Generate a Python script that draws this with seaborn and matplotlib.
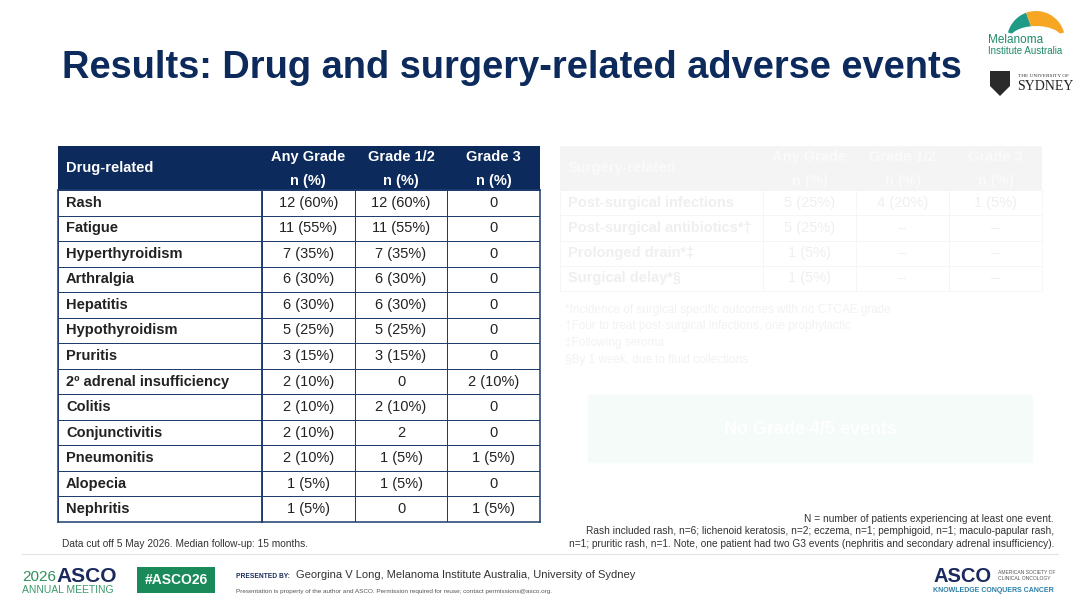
import numpy as np
import matplotlib
matplotlib.use("Agg")
import matplotlib.pyplot as plt
import seaborn as sns
from matplotlib.colors import ListedColormap
from matplotlib.patches import Rectangle, Wedge, Ellipse, Polygon

# Drug-related adverse events
drug_events = ['Rash', 'Fatigue', 'Hyperthyroidism', 'Arthralgia', 'Hepatitis',
               'Hypothyroidism', 'Pruritis', '2º adrenal insufficiency', 'Colitis',
               'Conjunctivitis', 'Pneumonitis', 'Alopecia', 'Nephritis']
drug_any = ['12 (60%)', '11 (55%)', '7 (35%)', '6 (30%)', '6 (30%)', '5 (25%)', '3 (15%)',
            '2 (10%)', '2 (10%)', '2 (10%)', '2 (10%)', '1 (5%)', '1 (5%)']
drug_g12 = ['12 (60%)', '11 (55%)', '7 (35%)', '6 (30%)', '6 (30%)', '5 (25%)', '3 (15%)',
            '0', '2 (10%)', '2', '1 (5%)', '1 (5%)', '0']
drug_g3 = ['0', '0', '0', '0', '0', '0', '0', '2 (10%)', '0', '0', '1 (5%)', '0', '1 (5%)']

# Surgery-related events (faded on the slide)
surg_events = ['Post-surgical infections', 'Post-surgical antibiotics*†',
               'Prolonged drain*‡', 'Surgical delay*§']
surg_any = ['5 (25%)', '5 (25%)', '1 (5%)', '1 (5%)']
surg_g12 = ['4 (20%)', '–', '–', '–']
surg_g3 = ['1 (5%)', '–', '–', '–']
surg_notes = ['*Incidence of surgical specific outcomes with no CTCAE grade',
              '†Four to treat post-surgical infections, one prophylactic',
              '‡Following seroma',
              '§By 1 week, due to fluid collections']

grade_heads = [('Any Grade', 'n (%)'), ('Grade 1/2', 'n (%)'), ('Grade 3', 'n (%)')]

W, H = 1080, 608
NAVY = '#0c2a5c'

plt.rcParams['font.family'] = ['Liberation Sans', 'DejaVu Sans']
fig = plt.figure(figsize=(W / 100, H / 100), dpi=100)
fig.patch.set_facecolor('white')

bg = fig.add_axes([0, 0, 1, 1])
bg.set_xlim(0, W)
bg.set_ylim(H, 0)
bg.axis('off')


def px_rect(x0, y0, x1, y1):
    return [x0 / W, 1 - y1 / H, (x1 - x0) / W, (y1 - y0) / H]


def draw_table(x0, xc, x1, ytop, yhead, ybot, events, cols, title,
               head_fill, head_txt, line_col, body_txt, outer_lw):
    # header band
    bg.add_patch(Rectangle((x0, ytop), x1 - x0, yhead - ytop, facecolor=head_fill,
                           edgecolor='none'))
    bg.text(x0 + 8, (ytop + yhead) / 2, title, color=head_txt, fontsize=10.5,
            fontweight='bold', va='center', ha='left')
    cw = (x1 - xc) / 3
    for j, (h1, h2) in enumerate(grade_heads):
        cx = xc + cw * (j + 0.5)
        bg.text(cx, ytop + 11, h1, color=head_txt, fontsize=10.5, fontweight='bold',
                ha='center', va='center')
        bg.text(cx, yhead - 9, h2, color=head_txt, fontsize=10.5, fontweight='bold',
                ha='center', va='center')

    n = len(events)
    white = ListedColormap(['white'])
    # label column
    axl = fig.add_axes(px_rect(x0, yhead, xc, ybot))
    sns.heatmap(np.zeros((n, 1)), ax=axl, cmap=white, vmin=0, vmax=1, cbar=False,
                linewidths=0.5, linecolor=line_col, xticklabels=False, yticklabels=False)
    for i, lab in enumerate(events):
        axl.text(8 / (xc - x0), i + 0.5, lab, color=body_txt, fontsize=10.5,
                 fontweight='bold', ha='left', va='center')
    # value columns
    axv = fig.add_axes(px_rect(xc, yhead, x1, ybot))
    sns.heatmap(np.zeros((n, 3)), ax=axv, cmap=white, vmin=0, vmax=1, cbar=False,
                annot=np.array(cols).T, fmt='',
                annot_kws=dict(fontsize=10.5, color=body_txt),
                linewidths=0.5, linecolor=line_col, xticklabels=False, yticklabels=False)
    for ax in (axl, axv):
        for s in ax.spines.values():
            s.set_visible(True)
            s.set_color(line_col)
            s.set_linewidth(outer_lw)
    return axl, axv


draw_table(58, 262, 540, 146, 190, 522, drug_events, [drug_any, drug_g12, drug_g3],
           'Drug-related', NAVY, 'white', '#1f3d6e', '#222222', 1.1)
draw_table(560, 763, 1042, 146, 190, 291, surg_events, [surg_any, surg_g12, surg_g3],
           'Surgery-related', '#f4f4f4', '#fafafa', '#f5f5f5', '#efefef', 0.6)

for k, note in enumerate(surg_notes):
    bg.text(565, 310 + k * 16.5, note, color='#f2f2f2', fontsize=8.5, va='center')

bg.add_patch(Rectangle((588, 395), 444, 67, facecolor='#f4fbf9', edgecolor='#f7fbfa'))
bg.text(810, 430, 'No Grade 4/5 events', color='white', fontsize=13, fontweight='bold',
        ha='center', va='center')

# title
bg.text(62, 68, 'Results: Drug and surgery-related adverse events', color=NAVY,
        fontsize=27.4, fontweight='bold', va='center', ha='left')

# logos top right
bg.add_patch(Wedge((1036, 40), 29, 195, 250, facecolor='#1f9a86', edgecolor='none'))
bg.add_patch(Wedge((1036, 40), 29, 250, 345, facecolor='#f6a623', edgecolor='none'))
bg.add_patch(Ellipse((1036, 40), 54, 28, facecolor='white', edgecolor='none'))
bg.text(988, 40, 'Melanoma', color='#1f8a6a', fontsize=8.5, va='center')
bg.text(988, 51, 'Institute Australia', color='#1f8a6a', fontsize=7, va='center')
bg.add_patch(Polygon([(990, 71), (1010, 71), (1010, 86), (1000, 96), (990, 86)],
                     closed=True, facecolor='#2a2a2a', edgecolor='none'))
bg.text(1018, 76, 'THE UNIVERSITY OF', color='#333333', fontsize=3.8, va='center',
        family=['Liberation Serif', 'DejaVu Serif'])
bg.text(1017, 87, 'SYDNEY', color='#222222', fontsize=10, va='center',
        family=['Liberation Serif', 'DejaVu Serif'])

# footnotes
narrow = ['Liberation Sans Narrow', 'Liberation Sans', 'DejaVu Sans']
bg.text(62, 544, 'Data cut off 5 May 2026. Median follow-up: 15 months.', color='#333333',
        fontsize=7.3, va='center', family=narrow)
right_notes = ['N = number of patients experiencing at least one event.',
               'Rash included rash, n=6; lichenoid keratosis, n=2; eczema, n=1; pemphigoid, n=1; maculo-papular rash,',
               'n=1; pruritic rash, n=1. Note, one patient had two G3 events (nephritis and secondary adrenal insufficiency).']
for k, line in enumerate(right_notes):
    bg.text(1054, 519 + k * 12.5, line, color='#333333', fontsize=7.3, va='center',
            ha='right', family=narrow)

bg.plot([22, 1058], [554, 554], color='#e2e2e2', lw=0.8)

# footer
bg.text(22, 577, '2026', color='#2f8f5e', fontsize=11, va='center')
bg.text(56, 576, 'ASCO', color='#1b2a5c', fontsize=15, fontweight='bold', va='center')
bg.text(22, 590, 'ANNUAL MEETING', color='#3d9a6a', fontsize=7.5, va='center')
bg.add_patch(Rectangle((137, 567), 78, 26, facecolor='#1a8a5a', edgecolor='none'))
bg.text(176, 580, '#ASCO26', color='white', fontsize=10, fontweight='bold',
        ha='center', va='center')
bg.text(236, 576, 'PRESENTED BY:', color='#1b2a5c', fontsize=4.8, fontweight='bold',
        va='center')
bg.text(296, 575, 'Georgina V Long, Melanoma Institute Australia, University of Sydney',
        color='#333333', fontsize=8, va='center', family=narrow)
bg.text(236, 591, 'Presentation is property of the author and ASCO. Permission required for reuse; contact permissions@asco.org.',
        color='#555555', fontsize=4.6, va='center', family=narrow)
bg.text(933, 577, 'ASCO', color='#1b2a5c', fontsize=14.5, fontweight='bold', va='center')
bg.text(998, 572, 'AMERICAN SOCIETY OF', color='#555555', fontsize=3.6, va='center')
bg.text(998, 579, 'CLINICAL ONCOLOGY', color='#555555', fontsize=3.6, va='center')
bg.text(933, 591, 'KNOWLEDGE CONQUERS CANCER', color='#2a7fa8', fontsize=5,
        fontweight='bold', va='center')

fig.savefig('out.png', dpi=100, facecolor='white')
